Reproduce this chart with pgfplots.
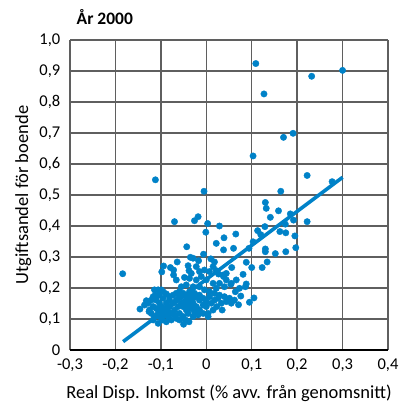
\documentclass[border=0pt]{standalone}
\usepackage{fontspec}
\setmainfont{Carlito}
\usepackage{pgfplots}
\pgfplotsset{compat=1.18}
\definecolor{dotblue}{RGB}{0,130,200}
\definecolor{gridgray}{RGB}{95,95,95}
\begin{document}
\fontsize{16.5bp}{19bp}\selectfont
\begin{tikzpicture}
\useasboundingbox (-70bp,-53bp) rectangle (332bp,350bp);
\begin{axis}[
  at={(0,0)}, anchor=south west,
  scale only axis, width=318bp, height=310bp,
  xmin=-0.3, xmax=0.4, ymin=0, ymax=1.0,
  xtick={-0.3,-0.2,-0.1,0,0.1,0.2,0.3,0.4},
  xticklabels={{-0,3},{-0,2},{-0,1},0,{0,1},{0,2},{0,3},{0,4}},
  ytick={0,0.1,0.2,0.3,0.4,0.5,0.6,0.7,0.8,0.9,1.0},
  yticklabels={0,{0,1},{0,2},{0,3},{0,4},{0,5},{0,6},{0,7},{0,8},{0,9},{1,0}},
  major tick length=0pt,
  grid=major,
  major grid style={gridgray, line width=1.3bp},
  axis line style={draw=none},
  tick label style={font=\fontsize{16.5bp}{19bp}\selectfont},
  xticklabel style={yshift=-3bp},
  yticklabel style={xshift=-4bp},
  label style={font=\fontsize{18.5bp}{21bp}\selectfont},
  xlabel={Real Disp. Inkomst (\% avv. från genomsnitt)},
  ylabel={Utgiftsandel för boende},
  xlabel style={yshift=-2bp},
  ylabel style={yshift=-3bp},
  clip=false,
]
\draw[black, line width=2bp] (rel axis cs:0,0) -- (rel axis cs:1,0);
\addplot[only marks, mark=*, mark size=3.2bp, dotblue, mark options={draw=dotblue, fill=dotblue}] table {
x y
0.109 0.924
0.127 0.826
0.232 0.883
0.300 0.902
0.170 0.686
0.191 0.699
-0.184 0.246
-0.112 0.549
-0.005 0.512
0.103 0.626
0.222 0.563
0.277 0.543
0.164 0.512
0.130 0.476
0.132 0.457
0.159 0.449
0.141 0.428
0.185 0.439
0.192 0.419
0.174 0.406
0.222 0.414
0.129 0.398
0.113 0.385
0.120 0.372
0.162 0.382
0.175 0.378
0.195 0.368
0.103 0.349
0.094 0.328
0.130 0.326
0.130 0.317
0.152 0.311
0.175 0.317
0.197 0.330
-0.070 0.414
-0.026 0.417
-0.018 0.430
0.003 0.408
-0.001 0.380
0.029 0.400
0.065 0.374
0.039 0.362
0.022 0.344
0.038 0.323
0.060 0.328
0.088 0.283
0.100 0.266
0.123 0.266
0.134 0.284
0.037 0.242
-0.099 0.194
-0.043 0.333
-0.035 0.299
-0.029 0.296
-0.017 0.288
-0.006 0.309
-0.064 0.284
-0.094 0.271
-0.079 0.266
-0.072 0.258
-0.098 0.252
-0.072 0.242
-0.066 0.226
-0.040 0.272
-0.022 0.269
-0.038 0.256
-0.033 0.247
-0.015 0.253
-0.004 0.258
0.007 0.253
0.010 0.294
0.018 0.284
0.015 0.269
0.022 0.256
0.027 0.245
0.044 0.247
0.056 0.266
0.038 0.237
0.044 0.226
0.055 0.215
0.066 0.226
0.081 0.244
0.088 0.213
0.086 0.204
0.073 0.199
0.064 0.188
0.076 0.174
0.105 0.168
0.095 0.154
0.071 0.146
0.054 0.212
0.040 0.204
0.029 0.215
0.022 0.199
0.015 0.215
0.000 0.226
-0.011 0.237
-0.022 0.226
-0.037 0.231
-0.048 0.234
-0.055 0.204
-0.044 0.210
-0.029 0.204
-0.015 0.204
-0.004 0.194
0.007 0.188
0.018 0.183
0.029 0.177
0.040 0.172
0.051 0.167
0.062 0.161
0.055 0.151
0.044 0.156
0.033 0.151
0.023 0.140
0.035 0.129
0.015 0.129
0.004 0.118
0.004 0.108
-0.007 0.118
-0.015 0.129
-0.022 0.140
-0.029 0.151
-0.037 0.161
-0.044 0.172
-0.051 0.183
-0.059 0.188
-0.066 0.183
-0.073 0.177
-0.081 0.172
-0.088 0.181
-0.095 0.188
-0.106 0.194
-0.114 0.194
-0.117 0.172
-0.121 0.161
-0.128 0.151
-0.132 0.159
-0.136 0.145
-0.146 0.132
-0.125 0.129
-0.117 0.140
-0.110 0.134
-0.106 0.118
-0.099 0.124
-0.092 0.113
-0.084 0.108
-0.077 0.118
-0.070 0.129
-0.062 0.140
-0.055 0.151
-0.048 0.156
-0.040 0.145
-0.033 0.134
-0.026 0.124
-0.018 0.113
-0.029 0.108
-0.040 0.118
-0.051 0.108
-0.059 0.097
-0.050 0.083
-0.066 0.102
-0.077 0.097
-0.088 0.091
-0.097 0.097
-0.106 0.086
-0.114 0.108
-0.121 0.118
-0.110 0.161
-0.103 0.151
-0.095 0.167
-0.088 0.151
-0.081 0.140
-0.073 0.151
-0.066 0.161
-0.059 0.172
-0.051 0.140
-0.044 0.129
-0.037 0.188
-0.026 0.183
-0.015 0.177
-0.007 0.167
0.000 0.156
0.007 0.172
0.011 0.151
0.018 0.161
0.026 0.167
-0.007 0.145
0.000 0.140
-0.015 0.161
-0.022 0.172
-0.029 0.167
-0.037 0.177
-0.081 0.161
-0.099 0.140
-0.092 0.134
-0.084 0.124
-0.070 0.113
-0.059 0.118
-0.046 0.097
-0.038 0.091
-0.103 0.108
-0.117 0.097
-0.126 0.124
-0.112 0.177
-0.104 0.177
};
\addplot[dotblue, line width=3.6bp] coordinates {(-0.183,0.027) (0.300,0.557)};
\node[anchor=base west, font=\bfseries\fontsize{17.5bp}{20bp}\selectfont] at (rel axis cs:0,1) [xshift=1bp, yshift=15bp] {År 2000};
\end{axis}
\end{tikzpicture}
\end{document}
